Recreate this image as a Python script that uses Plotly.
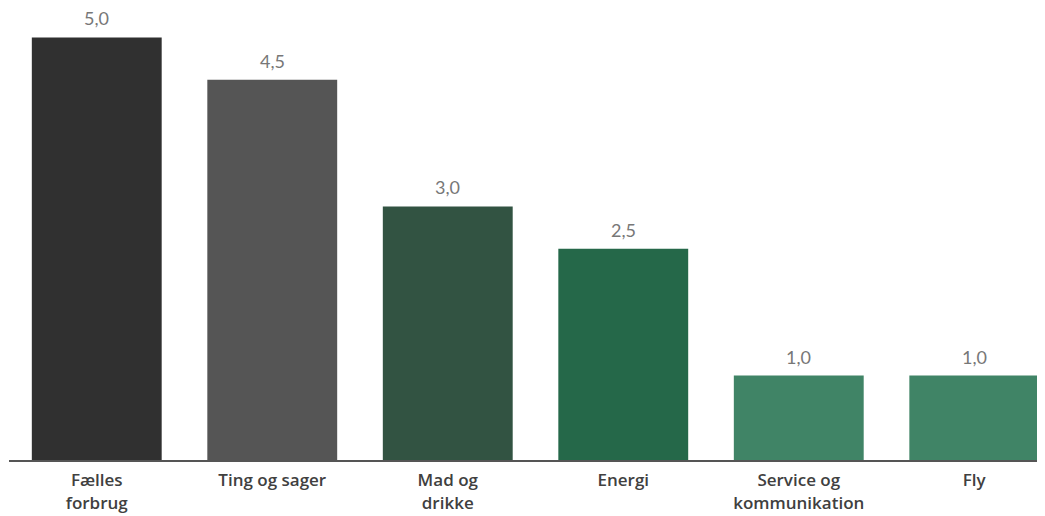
import plotly.graph_objects as go

categories = ["Fælles<br>forbrug", "Ting og sager", "Mad og<br>drikke", "Energi",
              "Service og<br>kommunikation", "Fly"]
values = [5.0, 4.5, 3.0, 2.5, 1.0, 1.0]
colors = ["#303030", "#555555", "#325342", "#256849", "#408466", "#408466"]

fig = go.Figure()
fig.add_trace(go.Bar(
    x=list(range(len(categories))), y=values,
    marker=dict(color=colors, line=dict(width=0)),
    width=0.74, hoverinfo="skip",
))

for i, v in enumerate(values):
    fig.add_annotation(
        x=i, y=v, text=f"{v:.1f}".replace(".", ","), showarrow=False,
        yanchor="bottom", yshift=6,
        font=dict(family="Lato, Open Sans, sans-serif", size=18, color="#777777"),
    )

fig.update_layout(
    width=1037, height=508,
    margin=dict(l=1, r=0, t=0, b=56),
    plot_bgcolor="white", paper_bgcolor="white",
    showlegend=False,
    xaxis=dict(
        range=[-0.5, 5.403],
        tickmode="array", tickvals=list(range(len(categories))), ticktext=categories,
        showgrid=False, zeroline=False,
        showline=True, linecolor="#555555", linewidth=2,
        ticks="", ticklen=0, ticklabelstandoff=4,
        tickfont=dict(family="Open Sans, sans-serif", size=17, color="#404040", weight=600),
    ),
    yaxis=dict(
        range=[0, 5.349], visible=False, showgrid=False, zeroline=False,
    ),
)

fig.write_html("out.html")
